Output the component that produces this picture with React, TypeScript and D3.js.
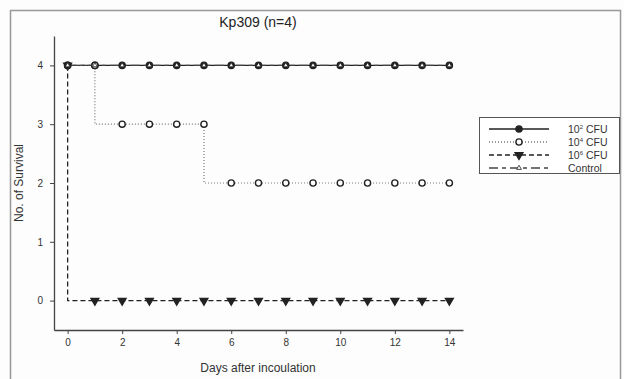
import React, { useEffect, useRef } from 'react';
import * as d3 from 'd3';

// days 0..14
const days = [0, 1, 2, 3, 4, 5, 6, 7, 8, 9, 10, 11, 12, 13, 14];
const cfu2 = [4, 4, 4, 4, 4, 4, 4, 4, 4, 4, 4, 4, 4, 4, 4];
const cfu4 = [4, 4, 3, 3, 3, 3, 2, 2, 2, 2, 2, 2, 2, 2, 2];
const cfu6 = [4, 0, 0, 0, 0, 0, 0, 0, 0, 0, 0, 0, 0, 0, 0];
const control = [4, 4, 4, 4, 4, 4, 4, 4, 4, 4, 4, 4, 4, 4, 4];
const xTicks = [0, 2, 4, 6, 8, 10, 12, 14];
const yTicks = [0, 1, 2, 3, 4];

interface Series {
  name: string;
  exp: string;
  values: number[];
  dash: string;
  stroke: string;
  marker: 'circle' | 'triangleDown' | 'triangle';
  fill: string;
}

const series: Series[] = [
  { name: ' CFU', exp: '2', values: cfu2, dash: 'none', stroke: '#222', marker: 'circle', fill: '#222' },
  { name: ' CFU', exp: '4', values: cfu4, dash: '1 2', stroke: '#777', marker: 'circle', fill: '#fff' },
  { name: ' CFU', exp: '6', values: cfu6, dash: '5 3', stroke: '#222', marker: 'triangleDown', fill: '#222' },
  { name: 'Control', exp: '', values: control, dash: '9 4 4 4', stroke: '#444', marker: 'triangle', fill: '#fff' },
];

const W = 624;
const H = 379;
const font = '"Liberation Sans", Arial, sans-serif';

const App: React.FC = () => {
  const svgRef = useRef<SVGSVGElement>(null);

  useEffect(() => {
    const svg = d3.select(svgRef.current);
    svg.selectAll('*').remove();

    const x = d3.scaleLinear().domain([-0.5, 14.5]).range([54, 463]);
    const y = d3.scaleLinear().domain([-0.5, 4.5]).range([330, 36]);

    svg.append('rect').attr('width', W).attr('height', H).attr('fill', '#fdfdfd');

    // outer frame
    svg.append('rect')
      .attr('x', 10.5).attr('y', 10.5)
      .attr('width', 610).attr('height', 380)
      .attr('fill', 'none').attr('stroke', '#999').attr('stroke-width', 1.5);

    svg.append('text')
      .attr('x', 258).attr('y', 27)
      .attr('text-anchor', 'middle')
      .style('font-family', font).style('font-size', '14px').style('fill', '#222')
      .text('Kp309 (n=4)');

    // axes
    const xAxis = svg.append('g')
      .attr('transform', 'translate(0,330)')
      .call(d3.axisBottom(x).tickValues(xTicks).tickSize(4).tickPadding(5).tickSizeOuter(0));
    const yAxis = svg.append('g')
      .attr('transform', 'translate(54,0)')
      .call(d3.axisLeft(y).tickValues(yTicks).tickFormat(d3.format('d')).tickSize(4).tickPadding(7).tickSizeOuter(0));
    [xAxis, yAxis].forEach(a => {
      a.select('.domain').attr('stroke', '#444').attr('stroke-width', 1.3);
      a.selectAll('.tick line').attr('stroke', '#444');
      a.selectAll('.tick text')
        .style('font-family', font).style('font-size', '10px').attr('fill', '#333');
    });

    svg.append('text')
      .attr('x', 258).attr('y', 372)
      .attr('text-anchor', 'middle')
      .style('font-family', font).style('font-size', '12px').style('fill', '#333')
      .text('Days after incoulation');

    svg.append('text')
      .attr('transform', 'translate(23,183) rotate(-90)')
      .attr('text-anchor', 'middle')
      .style('font-family', font).style('font-size', '12px').style('fill', '#333')
      .text('No. of Survival');

    const line = d3.line<number>()
      .x((_, i) => x(days[i]))
      .y(d => y(d))
      .curve(d3.curveStepBefore);

    const drawMarker = (g: any, s: Series, cx: number, cy: number) => {
      const isCircle = s.marker === 'circle';
      const size = isCircle ? 30 : s.marker === 'triangle' ? 10 : 26;
      g.append('path')
        .attr('d', d3.symbol(isCircle ? d3.symbolCircle : d3.symbolTriangle, size)())
        .attr('transform', `translate(${cx},${cy})${s.marker === 'triangleDown' ? ' rotate(180)' : ''}`)
        .attr('fill', s.fill)
        .attr('stroke', '#222')
        .attr('stroke-width', s.marker === 'triangle' ? 0.8 : 1.4);
    };

    const plot = svg.append('g');
    series.forEach(s => {
      plot.append('path')
        .datum(s.values)
        .attr('d', line)
        .attr('fill', 'none')
        .attr('stroke', s.stroke)
        .attr('stroke-width', s.dash === '1 2' ? 1.2 : 1.3)
        .attr('stroke-dasharray', s.dash);
    });
    series.forEach(s => {
      s.values.forEach((v, i) => drawMarker(plot, s, x(days[i]), y(v)));
    });

    // legend
    const lg = svg.append('g');
    lg.append('rect')
      .attr('x', 479.5).attr('y', 117.5)
      .attr('width', 140).attr('height', 56)
      .attr('fill', '#fff').attr('stroke', '#555').attr('stroke-width', 1);
    series.forEach((s, i) => {
      const ly = 129 + i * 13;
      lg.append('line')
        .attr('x1', 489).attr('x2', 549).attr('y1', ly).attr('y2', ly)
        .attr('stroke', s.stroke).attr('stroke-width', 1.3)
        .attr('stroke-dasharray', s.dash);
      drawMarker(lg, s.marker === 'triangle' ? { ...s, marker: 'triangle' } : s, 519, ly);
      const t = lg.append('text')
        .attr('x', 568).attr('y', ly + 4)
        .style('font-family', font).style('font-size', '10.5px').style('fill', '#333');
      if (s.exp) {
        t.append('tspan').text('10');
        t.append('tspan').attr('dy', -4).style('font-size', '6px').text(s.exp);
        t.append('tspan').attr('dy', 4).text(s.name);
      } else {
        t.text(s.name);
      }
    });
  }, []);

  return (
    <svg
      ref={svgRef}
      width={W}
      height={H}
      style={{ position: 'absolute', left: 0, top: 0 }}
    />
  );
};

export default App;
